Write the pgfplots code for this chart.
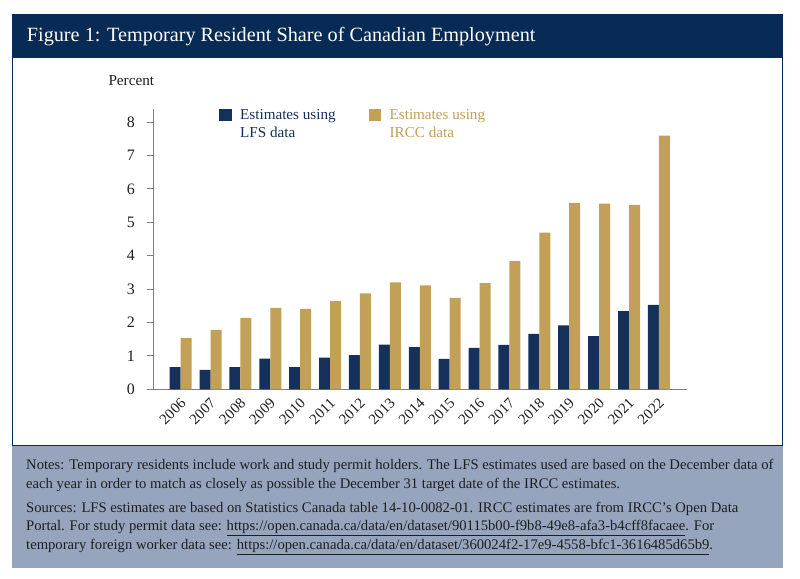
\documentclass[border=0pt]{standalone}
\usepackage{fontspec}
\setmainfont{Liberation Serif}
\usepackage{pgfplots}
\usepackage{pgfplotstable}
\pgfplotsset{compat=1.18}

\definecolor{hdrnavy}{RGB}{8,43,85}
\definecolor{barnavy}{RGB}{21,48,90}
\definecolor{gold}{RGB}{194,160,88}
\definecolor{notebg}{RGB}{150,164,190}
\definecolor{axgray}{RGB}{128,128,128}
\definecolor{txt}{RGB}{30,30,30}

% share of employment, percent (x = 0 is 2006)
\pgfplotstableread{
x  lfs   ircc
0  0.66  1.53
1  0.58  1.78
2  0.66  2.14
3  0.92  2.44
4  0.66  2.41
5  0.95  2.64
6  1.02  2.87
7  1.34  3.20
8  1.26  3.11
9  0.91  2.74
10 1.24  3.18
11 1.33  3.84
12 1.66  4.69
13 1.91  5.58
14 1.59  5.56
15 2.34  5.52
16 2.53  7.59
}\sharetable

\newcommand\notefont{\fontsize{14.7}{17}\selectfont}

\begin{document}
\begin{tikzpicture}[x=1bp,y=1bp]
% frame
\fill[white] (0,0) rectangle (800,579);
\fill[hdrnavy] (12,521.7) rectangle (783.3,564.7);
\fill[notebg] (12,11.3) rectangle (783.3,133.3);
\draw[hdrnavy, line width=1.2bp] (12.6,133.3) rectangle (782.7,521.7);

\node[anchor=base west, inner sep=0, text=white, font=\fontsize{20.3}{24}\selectfont]
  at (26.7,537.3) {Figure 1: Temporary Resident Share of Canadian Employment};
\node[anchor=base west, inner sep=0, text=txt, font=\fontsize{15.3}{18}\selectfont]
  at (108.3,493) {Percent};

\begin{axis}[
  at={(153.7bp,189.7bp)}, anchor=south west,
  scale only axis, width=533bp, height=280.6bp,
  xmin=-0.9, xmax=16.93, ymin=0, ymax=8.4,
  clip=false,
  axis lines=left,
  axis line style={-, draw=axgray, line width=1bp},
  ybar=0pt, bar width=11bp,
  xtick={0,...,16},
  xticklabels={2006,2007,2008,2009,2010,2011,2012,2013,2014,2015,2016,2017,2018,2019,2020,2021,2022},
  major x tick style={draw=none},
  ytick={0,...,8},
  tick align=outside, major tick length=6.7bp,
  ytick style={draw=axgray, line width=1bp},
  /pgf/number format/assume math mode=true,
  yticklabel style={anchor=east, inner sep=0pt, xshift=-12bp, text=txt,
    font=\fontsize{16}{18}\selectfont},
  xticklabel style={rotate=45, anchor=north east, inner sep=0pt, xshift=-1.5bp, yshift=0bp,
    text=txt, font=\fontsize{15}{17}\selectfont},
  legend columns=2,
  legend style={draw=none, fill=none, at={(axis description cs:0.1225,1.004)},
    anchor=north west, inner sep=0pt,
    font=\fontsize{15.2}{17.7}\selectfont,
    /tikz/every even column/.append style={column sep=31bp}},
  legend image code/.code={\fill[#1] (0bp,3.3bp) rectangle (12.7bp,15.7bp); \path (19bp,0bp);},
]
\addplot[fill=barnavy, draw=none] table[x=x, y=lfs] {\sharetable};
\addlegendentry[text=barnavy, align=left]{Estimates using\\LFS data}
\addplot[fill=gold, draw=none] table[x=x, y=ircc] {\sharetable};
\addlegendentry[text=gold, align=left]{Estimates using\\IRCC data}
\draw[axgray, line width=1bp] (rel axis cs:0,0) -- ([xshift=-6.7bp]rel axis cs:0,0);
\end{axis}

% notes
\begin{scope}[every node/.style={anchor=base west, inner sep=0, text=txt, font=\notefont}]
\node at (26,109) {Notes: Temporary residents include work and study permit holders. The LFS estimates used are based on the December data of};
\node at (26,90.8) {each year in order to match as closely as possible the December 31 target date of the IRCC estimates.};
\node at (26,66.5) {Sources: LFS estimates are based on Statistics Canada table 14-10-0082-01. IRCC estimates are from IRCC's Open Data};
\node at (26,48) {Portal. For study permit data see: \underline{https://open.canada.ca/data/en/dataset/90115b00-f9b8-49e8-afa3-b4cff8facaee}. For};
\node at (26,29.5) {temporary foreign worker data see: \underline{https://open.canada.ca/data/en/dataset/360024f2-17e9-4558-bfc1-3616485d65b9}.};
\end{scope}
\end{tikzpicture}
\end{document}
